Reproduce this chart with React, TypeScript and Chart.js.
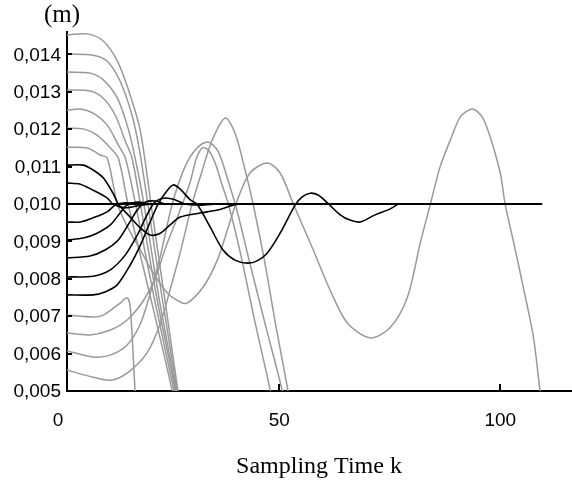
import React, { useEffect, useRef } from "react";
import { Chart, registerables } from "chart.js";

Chart.register(...registerables);

type Pt = [number, number];

// Axis ticks and texts
const xTicks = [0, 50, 100];
const yTicks = [0.005, 0.006, 0.007, 0.008, 0.009, 0.01, 0.011, 0.012, 0.013, 0.014];
const xTitle = "Sampling Time k";
const yUnit = "(m)";

// Reference (setpoint) line
const setpoint: Pt[] = [[2, 0.01], [109.5, 0.01]];

// Converging (black) trajectories: [k, value]
const black1: Pt[] = [[2, 0.01104], [5.7, 0.01104], [7.9, 0.01091], [10.2, 0.0107], [12.4, 0.01029], [13.6, 0.01], [16.3, 0.00965], [18.6, 0.00936], [20.8, 0.00917], [23.1, 0.00922], [25.3, 0.00944], [27.6, 0.00965], [32.1, 0.00976], [36, 0.00984], [39.6, 0.00997], [41.2, 0.01]];
const black2: Pt[] = [[2, 0.01056], [5, 0.01053], [7.9, 0.01037], [11.1, 0.01016], [12.4, 0.01], [15.2, 0.0099], [18.6, 0.00997], [20.8, 0.01]];
const black3: Pt[] = [[2, 0.00952], [5, 0.00952], [7.9, 0.00963], [11.1, 0.00979], [12.9, 0.00997], [15.2, 0.01003], [18.6, 0.01]];
const black4: Pt[] = [[2, 0.00904], [5.7, 0.00909], [8.8, 0.00922], [11.8, 0.00944], [14, 0.00976], [15.6, 0.00997], [17.9, 0.01005], [20.8, 0.01]];
const black5: Pt[] = [[2, 0.00856], [7.2, 0.00861], [10.6, 0.00877], [13.6, 0.00904], [15.8, 0.00944], [17.9, 0.00984], [19.7, 0.01005], [21.9, 0.01008], [24.2, 0.01]];
const black6: Pt[] = [[2, 0.00805], [7.9, 0.00807], [11.8, 0.00824], [15.2, 0.00864], [17.9, 0.00917], [20.1, 0.00971], [21.9, 0.01005], [24.2, 0.01016], [26.5, 0.01011], [28.7, 0.01], [32.1, 0.00997], [35.5, 0.01]];
const black7: Pt[] = [[2, 0.00757], [7.9, 0.00757], [10.6, 0.00765], [13.3, 0.00783], [16.3, 0.00837], [18.6, 0.0089], [20.8, 0.00952], [22.6, 0.01], [24.2, 0.01029], [26, 0.01051], [27.6, 0.0104], [29.9, 0.01011], [31.4, 0.01], [34.4, 0.00938], [37.3, 0.00877], [40, 0.0085], [42.8, 0.00842], [45, 0.00848], [47.3, 0.00869], [50.2, 0.00922], [53.6, 0.00997], [55.2, 0.01019], [57, 0.01029], [58.8, 0.01024], [60.9, 0.01003], [63.8, 0.00971], [66, 0.00957], [68.3, 0.00952], [71.7, 0.00971], [75.1, 0.00987], [76.9, 0.01]];

// Diverging (gray) trajectories: [k, value]
const gray1: Pt[] = [[2, 0.01452], [6.6, 0.01455], [10.2, 0.01436], [13.4, 0.01382], [16.3, 0.01291], [18.6, 0.01195], [21, 0.01], [24, 0.00755], [27.1, 0.005], [27.6, 0.0046]];
const gray2: Pt[] = [[2, 0.01401], [7.9, 0.01398], [11.1, 0.01382], [14, 0.01329], [16.7, 0.01238], [18.3, 0.0115], [20.3, 0.01], [23.5, 0.0075], [26.9, 0.005], [27.4, 0.0046]];
const gray3: Pt[] = [[2, 0.01353], [7.2, 0.0135], [10.2, 0.01332], [13.4, 0.01283], [15.8, 0.01203], [17.4, 0.01123], [19.4, 0.01], [22.8, 0.0075], [26.7, 0.005], [27.1, 0.0046]];
const gray4: Pt[] = [[2, 0.01305], [7.2, 0.01302], [10.2, 0.01283], [12.9, 0.01238], [15.2, 0.01168], [16.7, 0.01123], [18.6, 0.01], [22.3, 0.0075], [26.5, 0.005], [26.9, 0.0046]];
const gray5: Pt[] = [[2, 0.01251], [5, 0.01254], [7.9, 0.01243], [11.1, 0.01211], [13.6, 0.01158], [15.2, 0.01123], [17.5, 0.01], [21.7, 0.0075], [26.2, 0.005], [26.7, 0.0046]];
const gray6: Pt[] = [[2, 0.01203], [5.7, 0.01201], [8.8, 0.01184], [11.8, 0.0115], [13.6, 0.01123], [15.8, 0.01], [20.9, 0.0075], [25.8, 0.005], [26.2, 0.0046]];
const gray7: Pt[] = [[2, 0.01152], [6.6, 0.0115], [9.5, 0.01131], [11.1, 0.01123], [13.4, 0.01], [15.8, 0.00936], [18.6, 0.00877], [21.5, 0.00816], [24.7, 0.00762], [27.6, 0.00738], [29.2, 0.00735], [32.8, 0.00778], [36, 0.0085], [38.5, 0.00939], [40.5, 0.0101], [43.4, 0.01083], [47.3, 0.0111], [50.2, 0.01083], [53.2, 0.01], [57.7, 0.00877], [61.5, 0.0077], [65.4, 0.00682], [70.6, 0.00642], [75.1, 0.0067], [79, 0.00751], [81.9, 0.00896], [84.2, 0.01], [86.4, 0.011], [88.7, 0.01171], [91, 0.01233], [93.7, 0.01254], [95.9, 0.01233], [97.7, 0.0118], [100, 0.01083], [101.1, 0.01], [102.9, 0.00904], [105.2, 0.00778], [107.5, 0.00644], [109, 0.005], [109.5, 0.00463]];
const gray8: Pt[] = [[2, 0.00703], [7.9, 0.00698], [10.2, 0.00703], [14, 0.00735], [15.6, 0.00749], [16.3, 0.00725], [17.4, 0.005], [17.7, 0.00463]];
const gray9: Pt[] = [[2, 0.00655], [7.2, 0.0065], [11.8, 0.00663], [15.6, 0.0069], [19.2, 0.0074], [21.9, 0.008], [24.2, 0.0088], [26.5, 0.0095], [28.1, 0.01], [29.9, 0.0106], [31.2, 0.0112], [32.6, 0.0115], [33.9, 0.01145], [35.5, 0.0111], [37.1, 0.0105], [38.5, 0.01], [41.2, 0.0087], [44.6, 0.0068], [48, 0.005], [48.4, 0.0046]];
const gray10: Pt[] = [[2, 0.00607], [7.9, 0.00591], [11.8, 0.00596], [15.6, 0.00623], [18.6, 0.0068], [20.8, 0.0076], [23.1, 0.0086], [25.8, 0.01], [28.7, 0.011], [31.4, 0.0115], [33.9, 0.01166], [36.2, 0.0114], [38.5, 0.0106], [40.5, 0.0098], [43.4, 0.0084], [46.8, 0.0068], [50.7, 0.005], [51.1, 0.0046]];
const gray11: Pt[] = [[2, 0.00556], [7.9, 0.00537], [11.8, 0.00529], [15.6, 0.00548], [20.1, 0.00602], [23.1, 0.0068], [25.3, 0.0077], [27.6, 0.0087], [30.3, 0.01], [32.6, 0.0109], [34.8, 0.0117], [37.8, 0.0123], [40, 0.0119], [42.3, 0.0109], [44.1, 0.01], [46.8, 0.0084], [49.3, 0.0067], [52, 0.005], [52.5, 0.0046]];

const blackCurves = [setpoint, black1, black2, black3, black4, black5, black6, black7];
const grayCurves = [gray1, gray2, gray3, gray4, gray5, gray6, gray7, gray8, gray9, gray10, gray11];

export default function App() {
  const ref = useRef<HTMLCanvasElement>(null);

  useEffect(() => {
    if (!ref.current) return;
    const toData = (c: Pt[]) => c.map(([x, y]) => ({ x, y }));
    const datasets: any[] = [
      ...blackCurves.map((c, i) => ({
        data: toData(c),
        borderColor: "#000000",
        borderWidth: i === 0 ? 1.8 : 1.6,
      })),
      ...grayCurves.map((c) => ({
        data: toData(c),
        borderColor: "#999999",
        borderWidth: 1.5,
      })),
    ].map((d) => ({ ...d, pointRadius: 0, fill: false, tension: 0.3 }));

    const decor = {
      id: "decor",
      afterDraw(chart: any) {
        const { ctx, chartArea, scales } = chart;
        ctx.save();
        ctx.strokeStyle = "#000";
        ctx.lineWidth = 2;
        yTicks.forEach((v) => {
          const y = Math.round(scales.y.getPixelForValue(v));
          ctx.beginPath();
          ctx.moveTo(chartArea.left, y);
          ctx.lineTo(chartArea.left + 5, y);
          ctx.stroke();
        });
        xTicks
          .filter((v) => v > scales.x.min)
          .forEach((v) => {
            const x = Math.round(scales.x.getPixelForValue(v));
            ctx.beginPath();
            ctx.moveTo(x, chartArea.bottom);
            ctx.lineTo(x, chartArea.bottom - 7);
            ctx.stroke();
          });
        ctx.fillStyle = "#000";
        ctx.font = '25px "Liberation Serif"';
        ctx.textAlign = "center";
        ctx.textBaseline = "middle";
        ctx.fillText(yUnit, chartArea.left - 5, chartArea.top - 17);
        ctx.restore();
      },
    };

    const chart = new Chart(ref.current, {
      type: "line",
      data: { datasets },
      options: {
        animation: false,
        responsive: false,
        devicePixelRatio: 1,
        layout: { padding: { top: 32, right: 1, left: 0, bottom: 0 } },
        plugins: { legend: { display: false }, tooltip: { enabled: false } },
        scales: {
          x: {
            type: "linear",
            min: 2,
            max: 116,
            afterBuildTicks: (s: any) => {
              s.ticks = xTicks.map((v) => ({ value: v }));
            },
            afterFit: (s: any) => {
              s.height = 109;
            },
            grid: { display: false, drawTicks: false },
            border: { display: true, color: "#000", width: 2 },
            ticks: {
              autoSkip: false,
              maxRotation: 0,
              padding: 18,
              color: "#000",
              font: { family: '"Liberation Sans"', size: 19 },
              callback: (v: any) => String(v),
            },
            title: {
              display: true,
              text: xTitle,
              color: "#000",
              font: { family: '"Liberation Serif"', size: 24 },
              padding: { top: 0, bottom: 19 },
            },
          },
          y: {
            type: "linear",
            min: 0.005,
            max: 0.0146,
            afterBuildTicks: (s: any) => {
              s.ticks = yTicks.map((v) => ({ value: v }));
            },
            afterFit: (s: any) => {
              s.width = 67;
            },
            grid: { display: false, drawTicks: false },
            border: { display: true, color: "#000", width: 2 },
            ticks: {
              autoSkip: false,
              padding: 6,
              labelOffset: 1,
              color: "#000",
              font: { family: '"Liberation Sans"', size: 19 },
              callback: (v: any) => Number(v).toFixed(3).replace(".", ","),
            },
          },
        },
      },
      plugins: [decor],
    });
    return () => chart.destroy();
  }, []);

  return (
    <div style={{ position: "fixed", left: 0, top: 0, width: 572, height: 500, background: "#fff" }}>
      <canvas ref={ref} width={572} height={500} style={{ display: "block" }} />
    </div>
  );
}
